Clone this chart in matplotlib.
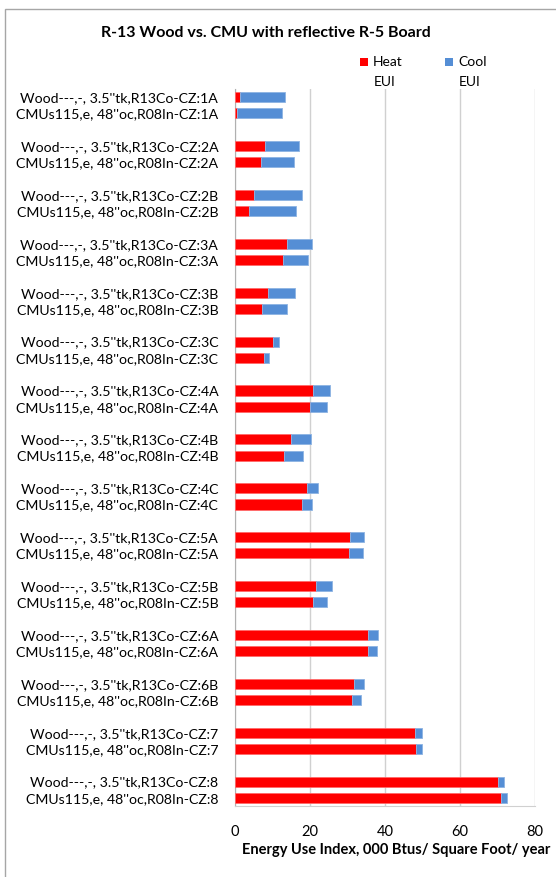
import matplotlib.pyplot as plt
from matplotlib.patches import Rectangle
import numpy as np

# Climate zones, each with a wood-frame and a CMU wall case
zones = ['1A', '2A', '2B', '3A', '3B', '3C', '4A', '4B', '4C',
         '5A', '5B', '6A', '6B', '7', '8']
wood_label = "Wood---,-, 3.5''tk,R13Co-CZ:"
cmu_label = "CMUs115,e, 48''oc,R08In-CZ:"

# Heating and total (heat + cool) EUI, 000 Btu/sf/yr
wood_heat = [1.2, 8.1, 5.1, 13.8, 8.9, 10.1, 20.7, 14.8, 19.2, 30.7, 21.7, 35.4, 31.7, 48.0, 70.0]
wood_total = [13.2, 17.0, 17.8, 20.4, 16.1, 11.8, 25.2, 20.3, 22.2, 34.4, 25.9, 38.0, 34.5, 49.9, 71.6]
cmu_heat = [0.5, 6.9, 3.6, 12.9, 7.2, 7.8, 19.9, 13.0, 17.9, 30.4, 20.7, 35.4, 31.1, 48.2, 71.0]
cmu_total = [12.6, 15.6, 16.2, 19.4, 13.9, 9.1, 24.5, 18.0, 20.5, 34.2, 24.4, 37.8, 33.5, 49.9, 72.4]

heat_color = '#FF0000'
cool_color = '#558ED5'

W, H = 556, 877
fig = plt.figure(figsize=(W / 100, H / 100), dpi=100)
plt.rcParams['font.family'] = ['Lato', 'DejaVu Sans']

ax = fig.add_axes([235 / W, 1 - 806 / H, 300 / W, 717 / H])

# one blank slot between each pair of bars
pos_wood = np.arange(len(zones)) * 3
pos_cmu = pos_wood + 1
heat = np.array(wood_heat + cmu_heat)
total = np.array(wood_total + cmu_total)
pos = np.concatenate([pos_wood, pos_cmu])
cool = total - heat

ax.barh(pos, heat, height=0.62, color=heat_color, edgecolor='#FF6A6A', linewidth=0.6, zorder=3)
ax.barh(pos, cool, left=heat, height=0.62, color=cool_color, edgecolor='#8DB3E2', linewidth=0.6, zorder=3)

labels = [wood_label + z for z in zones] + [cmu_label + z for z in zones]
ax.set_yticks(pos)
ax.set_yticklabels(labels, fontsize=10.2, color='#000000')
ax.set_ylim(43.5, -0.5)

ax.set_xlim(0, 80)
ax.set_xticks([0, 20, 40, 60, 80])
ax.tick_params(axis='x', length=0, labelsize=10.5, pad=14)
ax.tick_params(axis='y', length=0, pad=12)
ax.grid(axis='x', color='#D0D0D0', linewidth=1.0, zorder=0)
for side in ['top', 'right']:
    ax.spines[side].set_visible(False)
ax.spines['left'].set_color('#B0B0B0')
ax.spines['bottom'].set_color('#D0D0D0')
ax.set_xlabel('Energy Use Index, 000 Btus/ Square Foot/ year', fontsize=10.5,
              fontweight='bold')
ax.xaxis.set_label_coords((396 - 235) / 300, -(850 - 806) / 717)
ax.xaxis.label.set_va('center')

fig.text(266 / W, 1 - 33 / H, 'R-13 Wood vs. CMU with reflective R-5 Board',
         ha='center', va='center', fontsize=11.5, fontweight='bold')

# legend drawn by hand, text wraps under each swatch label
for x0, color, name in [(360, heat_color, 'Heat'), (445, cool_color, 'Cool')]:
    fig.add_artist(Rectangle((x0 / W, 1 - 66 / H), 8 / W, 8 / H, transform=fig.transFigure,
                             facecolor=color, edgecolor='none'))
    fig.text((x0 + 13) / W, 1 - 62 / H, name, ha='left', va='center', fontsize=10)
    fig.text((x0 + 14) / W, 1 - 82 / H, 'EUI', ha='left', va='center', fontsize=10)

# chart area border, runs past the right and bottom edges
fig.add_artist(Rectangle((4.5 / W, -0.05), 600 / W, 1.05 - 8.5 / H, transform=fig.transFigure,
                         facecolor='none', edgecolor='#A6A6A6', linewidth=1.0))

fig.savefig('out.png', dpi=100)
